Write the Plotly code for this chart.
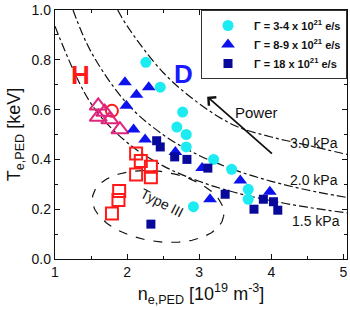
import numpy as np
import plotly.graph_objects as go

# ---------------- data ----------------
cyan_n = [2.26, 2.46, 2.77, 2.69, 2.82, 2.82, 3.20, 3.45, 3.68, 3.68, 2.92]
cyan_T = [0.79, 0.69, 0.59, 0.53, 0.50, 0.45, 0.40, 0.36, 0.28, 0.24, 0.21]

tri_n = [1.97, 2.30, 2.13, 1.99, 2.09, 2.25, 2.67, 3.04, 3.57, 3.98, 3.15]
tri_T = [0.71, 0.69, 0.66, 0.615, 0.52, 0.48, 0.43, 0.365, 0.315, 0.27, 0.24]

sq_n = [2.41, 2.46, 2.66, 2.83, 3.12, 3.36, 3.76, 3.89, 4.03, 4.09, 2.33]
sq_T = [0.475, 0.45, 0.41, 0.40, 0.365, 0.26, 0.20, 0.24, 0.23, 0.196, 0.14]

h_sq_n = [2.125, 2.19, 2.33, 2.125, 2.33, 1.89, 1.88, 1.79]
h_sq_T = [0.424, 0.394, 0.37, 0.339, 0.328, 0.273, 0.237, 0.183]

h_tri_n = [1.60, 1.69, 1.60, 1.76, 1.90]
h_tri_T = [0.615, 0.59, 0.57, 0.56, 0.52]

h_circ_n = [1.79]
h_circ_T = [0.595]

legend_names = [
    "<b>Γ = 3-4 x 10<sup>21</sup> e/s</b>",
    "<b>Γ = 8-9 x 10<sup>21</sup> e/s</b>",
    "<b>Γ = 18 x 10<sup>21</sup> e/s</b>",
]

# isobars
iso15_n = [1.0, 1.5, 2.0, 2.5, 3.0, 3.5, 4.0, 4.5, 5.05]
iso15_T = [0.935, 0.624, 0.468, 0.374, 0.312, 0.267, 0.234, 0.208, 0.185]
iso20_n = [1.25, 1.5, 2.0, 2.5, 3.0, 3.5, 4.0, 4.5, 5.05]
iso20_T = [1.0, 0.832, 0.624, 0.499, 0.416, 0.357, 0.312, 0.277, 0.247]
iso30_n = [1.87, 2.0, 2.5, 3.0, 3.5, 4.0, 4.5, 5.05]
iso30_T = [1.0, 0.936, 0.749, 0.624, 0.535, 0.49, 0.457, 0.42]
iso_labels = ["1.5 kPa", "2.0 kPa", "3.0 kPa"]

FONT = "Liberation Sans, Arial, sans-serif"
XR = [1, 5.05]
YR = [0, 1.0]

fig = go.Figure()

# isobars
for xs, ys in [(iso15_n, iso15_T), (iso20_n, iso20_T), (iso30_n, iso30_T)]:
    fig.add_trace(go.Scatter(x=xs, y=ys, mode="lines", showlegend=False,
                             line=dict(color="#111111", width=1.2, dash="dashdot", shape="spline"),
                             hoverinfo="skip"))

# Type III ellipse (dashed)
px_x = 293 / (XR[1] - XR[0])
px_y = 253 / (YR[1] - YR[0])
cx, cy, a, b, th = 2.43, 0.211, 66.5, 35.6, np.deg2rad(8.5)
t = np.linspace(0, 2 * np.pi, 200)
u = a * np.cos(t) * np.cos(th) - b * np.sin(t) * np.sin(th)
v = a * np.cos(t) * np.sin(th) + b * np.sin(t) * np.cos(th)
fig.add_trace(go.Scatter(x=cx + u / px_x, y=cy - v / px_y, mode="lines", showlegend=False,
                         line=dict(color="#111111", width=1.2, dash="dash"), hoverinfo="skip"))

# H-mode open markers
fig.add_trace(go.Scatter(x=h_circ_n, y=h_circ_T, mode="markers", showlegend=False,
                         marker=dict(symbol="circle-open", size=12, color="#ff1a1a",
                                     line=dict(width=2, color="#ff1a1a"))))
fig.add_trace(go.Scatter(x=h_tri_n, y=h_tri_T, mode="markers", showlegend=False,
                         marker=dict(symbol="triangle-up-open", size=15, color="#e0267c",
                                     line=dict(width=2, color="#e0267c"))))
fig.add_trace(go.Scatter(x=h_sq_n, y=h_sq_T, mode="markers", showlegend=False,
                         marker=dict(symbol="square-open", size=12, color="#ff1a1a",
                                     line=dict(width=2, color="#ff1a1a"))))

# D-mode filled markers
fig.add_trace(go.Scatter(x=cyan_n, y=cyan_T, mode="markers", name=legend_names[0],
                         marker=dict(symbol="circle", size=11, color="#1cecf2")))
fig.add_trace(go.Scatter(x=tri_n, y=tri_T, mode="markers", name=legend_names[1],
                         marker=dict(symbol="triangle-up", size=12, color="#0c12ee")))
fig.add_trace(go.Scatter(x=sq_n, y=sq_T, mode="markers", name=legend_names[2],
                         marker=dict(symbol="square", size=9, color="#08089a")))

ann = []
# isobar labels
for txt, (xx, yy) in zip(iso_labels, [(4.62, 0.154), (4.59, 0.319), (4.59, 0.466)]):
    ann.append(dict(x=xx, y=yy, text=txt, showarrow=False,
                    font=dict(family=FONT, size=14, color="#111111")))
ann.append(dict(x=2.49, y=0.225, text="Type III", showarrow=False, textangle=27,
                font=dict(family=FONT, size=14, color="#111111")))
ann.append(dict(x=1.35, y=0.74, text="<b>H</b>", showarrow=False,
                font=dict(family=FONT, size=26, color="#ff1a1a")))
ann.append(dict(x=2.78, y=0.745, text="<b>D</b>", showarrow=False,
                font=dict(family=FONT, size=26, color="#1a1aff")))
ann.append(dict(x=3.79, y=0.589, text="Power", showarrow=False,
                font=dict(family=FONT, size=15, color="#111111")))
ann.append(dict(x=3.11, y=0.652, ax=4.03, ay=0.418, axref="x", ayref="y",
                text="", showarrow=True, arrowhead=4, arrowsize=1.2, arrowwidth=1.8,
                arrowcolor="#111111"))

axis_common = dict(showline=True, linecolor="#111111", linewidth=1.3, mirror="ticks",
                   ticks="inside", ticklen=5, tickwidth=1.2, tickcolor="#111111",
                   showgrid=False, zeroline=False, ticklabeloverflow="allow",
                   tickfont=dict(family=FONT, size=14, color="#111111"))

fig.update_layout(
    width=350, height=310,
    margin=dict(l=55, r=2, t=6, b=51),
    paper_bgcolor="white", plot_bgcolor="white",
    font=dict(family=FONT, color="#111111"),
    showlegend=True,
    legend=dict(x=1, y=1, xanchor="right", yanchor="top",
                bordercolor="#333333", borderwidth=1, bgcolor="white",
                font=dict(family=FONT, size=11, color="#111111"),
                itemwidth=42),
    annotations=ann,
    xaxis=dict(range=XR, dtick=1, tick0=1,
               minor=dict(dtick=0.5, ticks="inside", ticklen=3, tickcolor="#111111"),
               title=dict(text="n<sub>e,PED</sub> [10<sup>19</sup> m<sup>-3</sup>]",
                          font=dict(family=FONT, size=18, color="#111111"), standoff=8),
               **axis_common),
    yaxis=dict(range=YR, dtick=0.2, tickformat=".1f",
               minor=dict(dtick=0.1, ticks="inside", ticklen=3, tickcolor="#111111"),
               title=dict(text="T<sub>e,PED</sub> [keV]",
                          font=dict(family=FONT, size=18, color="#111111"), standoff=6),
               **axis_common),
)

fig.write_html("out.html", config={"displayModeBar": False},
               post_script="document.body.style.margin='0px';")
